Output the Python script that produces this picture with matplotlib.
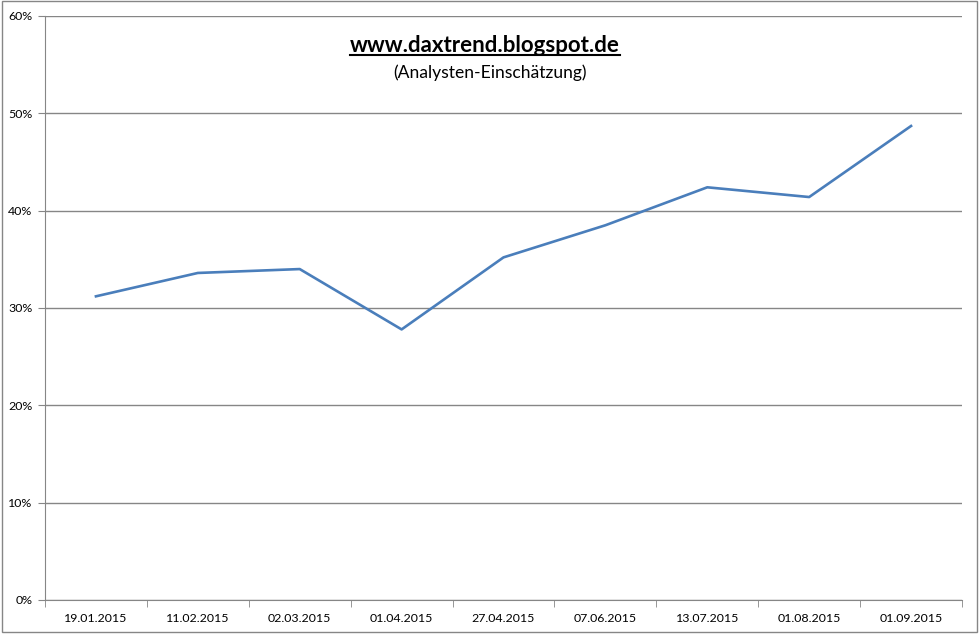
import matplotlib
matplotlib.use('Agg')
from matplotlib import pyplot as plt
from matplotlib.lines import Line2D
from matplotlib.patches import Rectangle
from matplotlib.ticker import FixedLocator, PercentFormatter

dates = ['19.01.2015', '11.02.2015', '02.03.2015', '01.04.2015', '27.04.2015',
         '07.06.2015', '13.07.2015', '01.08.2015', '01.09.2015']
values = [31.2, 33.6, 34.0, 27.8, 35.2, 38.5, 42.4, 41.4, 48.7]
y_ticks = [0, 10, 20, 30, 40, 50, 60]

plt.rcParams['font.family'] = ['Lato', 'DejaVu Sans']

fig = plt.figure(figsize=(9.8, 6.35), dpi=100)
fig.patches.append(Rectangle((2 / 980, 3 / 635), 975 / 980, 631 / 635,
                             transform=fig.transFigure, fill=False,
                             ec='#868686', lw=1))
ax = fig.add_axes([45 / 980, 35 / 635, 917 / 980, 584 / 635])

x = range(len(dates))
ax.plot(x, values, color='#4a7ebb', lw=1.9, solid_joinstyle='round')

ax.set_xlim(-0.5, len(dates) - 0.5)
ax.set_ylim(0, 60)
ax.set_yticks(y_ticks)
ax.yaxis.set_major_formatter(PercentFormatter(decimals=0))
ax.grid(axis='y', color='#868686', lw=1)
ax.set_axisbelow(True)

ax.set_xticks(list(x))
ax.set_xticklabels(dates)
ax.xaxis.set_minor_locator(FixedLocator([i + 0.5 for i in range(-1, len(dates))]))
ax.tick_params(axis='x', which='major', length=0, pad=9, labelsize=8.9)
ax.tick_params(axis='x', which='minor', length=5, color='#868686', direction='out')
ax.tick_params(axis='y', length=5, color='#868686', labelsize=8.9, pad=4)

for s in ['top', 'right']:
    ax.spines[s].set_visible(False)
for s in ['left', 'bottom']:
    ax.spines[s].set_color('#868686')

title = fig.text(0.495, 1 - 46 / 635, 'www.daxtrend.blogspot.de', ha='center',
                 va='center', fontsize=16, fontweight='bold')
fig.text(0.5, 1 - 73 / 635, '(Analysten-Einschätzung)', ha='center',
         va='center', fontsize=12.6)

fig.canvas.draw()
bb = title.get_window_extent().transformed(fig.transFigure.inverted())
fig.add_artist(Line2D([bb.x0, bb.x1], [bb.y0 + 0.003, bb.y0 + 0.003],
                      transform=fig.transFigure, color='black', lw=1.5))

fig.savefig('out.png', dpi=100)
